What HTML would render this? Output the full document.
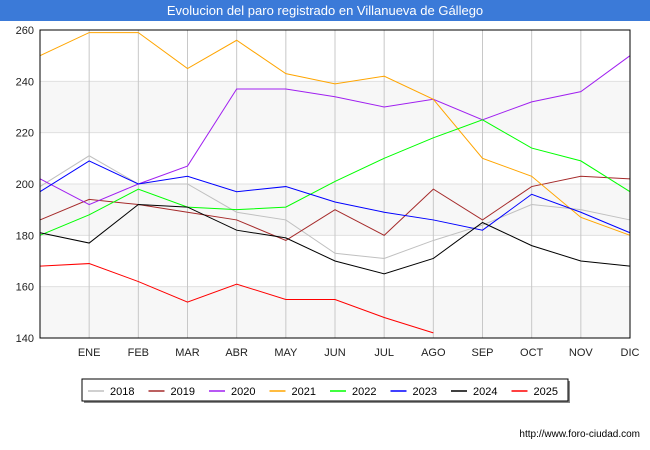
<!DOCTYPE html>
<html><head><meta charset="utf-8"><style>
body{margin:0;width:650px;height:450px;background:#fff;font-family:"Liberation Sans",sans-serif;overflow:hidden}
#title{position:absolute;left:0;top:0;width:650px;height:21px;background:#3b7ad8;color:#fff;font-size:13px;text-align:center;line-height:21px}
</style></head><body>
<div id="title">Evolucion del paro registrado en Villanueva de Gállego</div>
<svg id="c" width="650" height="450" style="position:absolute;left:0;top:0"></svg>
<script>
const months=["","ENE","FEB","MAR","ABR","MAY","JUN","JUL","AGO","SEP","OCT","NOV","DIC"];
const yTicks=[140,160,180,200,220,240,260];
const years=["2018","2019","2020","2021","2022","2023","2024","2025"];
const colors=["#c0c0c0","#a52a2a","#a020f0","#ffa500","#00ff00","#0000ff","#000000","#ff0000"];
const s2018=[199,211,200,200,189,186,173,171,178,184,192,190,186];
const s2019=[186,194,192,189,186,178,190,180,198,186,199,203,202];
const s2020=[202,192,200,207,237,237,234,230,233,225,232,236,250];
const s2021=[250,259,259,245,256,243,239,242,233,210,203,187,180];
const s2022=[180,188,198,191,190,191,201,210,218,225,214,209,197];
const s2023=[197,209,200,203,197,199,193,189,186,182,196,189,181];
const s2024=[181,177,192,191,182,179,170,165,171,185,176,170,168];
const s2025=[168,169,162,154,161,155,155,148,142];
const series=[s2018,s2019,s2020,s2021,s2022,s2023,s2024,s2025];
const L=40,R=630,T=30,B=338,ymin=140,ymax=260;
const x=i=>L+i*(R-L)/12;
const y=v=>B-(v-ymin)*(B-T)/(ymax-ymin);
const svg=document.getElementById('c');const NS="http://www.w3.org/2000/svg";
function mk(t,a,p){const e=document.createElementNS(NS,t);for(const k in a)e.setAttribute(k,a[k]);(p||svg).appendChild(e);return e;}
for(let i=0;i<yTicks.length-1;i++){if(i%2==0){const r=mk('rect',{x:L,y:y(yTicks[i+1]),width:R-L,height:y(yTicks[i])-y(yTicks[i+1]),fill:'#f7f7f7'});

}}
yTicks.forEach(v=>{const l=mk('line',{x1:L,x2:R,y1:y(v),y2:y(v),stroke:'#e0e0e0'});


const t=mk('text',{x:L-6,y:y(v)+4,'text-anchor':'end','font-size':11,fill:'#222'});t.textContent=v;

});
months.forEach((m,i)=>{if(i>0){const l=mk('line',{x1:x(i),x2:x(i),y1:T,y2:B,stroke:'#c8c8c8'});


const t=mk('text',{x:x(i),y:B+18,'text-anchor':'middle','font-size':11,fill:'#222'});t.textContent=m;

}});
series.forEach((s,k)=>{const p=mk('polyline',{points:s.map((v,i)=>x(i)+','+y(v)).join(' '),fill:'none',stroke:colors[k],'stroke-width':1});

});
const fr=mk('rect',{x:L,y:T,width:R-L,height:B-T,fill:'none',stroke:'#000'});


const lg=mk('g',{});


mk('rect',{x:84,y:381,width:486,height:22,fill:'#888'},lg);
mk('rect',{x:82,y:379,width:486,height:22,fill:'#fff',stroke:'#000'},lg);
years.forEach((yr,k)=>{const g=mk('g',{},lg);


const lx=88+k*60.5;mk('line',{x1:lx,x2:lx+16,y1:391,y2:391,stroke:colors[k],'stroke-width':1.5},g);
const t=mk('text',{x:lx+22,y:395,'font-size':11,fill:'#000'},g);t.textContent=yr;});
const u=mk('text',{x:640,y:437,'text-anchor':'end','font-size':10,fill:'#000'});u.textContent='http://www.foro-ciudad.com';


</script>
</body></html>
